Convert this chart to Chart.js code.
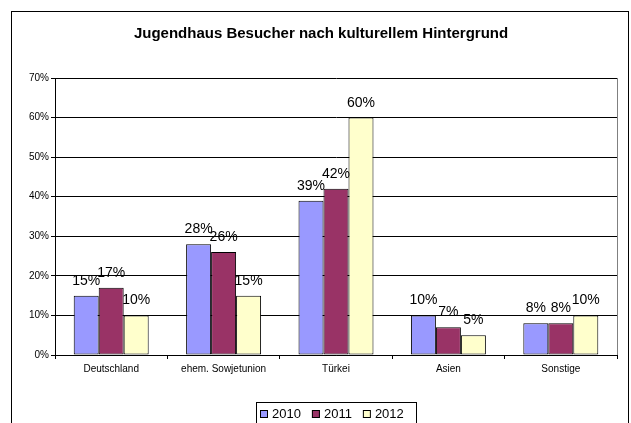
<!DOCTYPE html>
<html>
<head>
<meta charset="utf-8">
<script src="https://cdn.jsdelivr.net/npm/chart.js@4.4.1/dist/chart.umd.min.js"></script>
<style>
    html, body { margin: 0; padding: 0; background: #fff; }
    #wrap { width: 631px; height: 423px; }
</style>
</head>
<body>
<div id="wrap"><canvas id="chart" width="631" height="423"></canvas></div>
<script>
const categories = ['Deutschland', 'ehem. Sowjetunion', 'Türkei', 'Asien', 'Sonstige'];
const seriesLabels = ['2010', '2011', '2012'];
const values2010 = [15, 28, 39, 10, 8];
const values2011 = [17, 26, 42, 7, 8];
const values2012 = [10, 15, 60, 5, 10];
const seriesColors = ['#9999FF', '#993366', '#FFFFCC'];
const chartTitle = 'Jugendhaus Besucher nach kulturellem Hintergrund';

const FONT = '"Liberation Sans", Arial, sans-serif';

// outer frame + title, drawn behind everything
const framePlugin = {
    id: 'frame',
    beforeDraw(chart) {
        const ctx = chart.ctx;
        ctx.save();
        ctx.fillStyle = '#fff';
        ctx.fillRect(0, 0, chart.width, chart.height);
        ctx.strokeStyle = '#000';
        ctx.lineWidth = 1;
        ctx.strokeRect(11.5, 11.5, 617, 430);
        ctx.fillStyle = '#000';
        ctx.font = 'bold 15px ' + FONT;
        ctx.textAlign = 'center';
        ctx.textBaseline = 'alphabetic';
        ctx.fillText(chartTitle, 321, 38);
        ctx.restore();
    },
    afterDraw(chart) {
        const ctx = chart.ctx;
        const a = chart.chartArea;
        ctx.save();
        // right edge of plot area
        ctx.strokeStyle = '#808080';
        ctx.lineWidth = 1;
        ctx.beginPath();
        ctx.moveTo(Math.round(a.right) + 0.5, a.top);
        ctx.lineTo(Math.round(a.right) + 0.5, a.bottom);
        ctx.stroke();

        // legend box
        ctx.strokeStyle = '#000';
        ctx.strokeRect(256.5, 402.5, 160, 40);
        ctx.font = '13px ' + FONT;
        ctx.textBaseline = 'alphabetic';
        ctx.textAlign = 'left';
        let x = 260;
        chart.data.datasets.forEach(ds => {
            ctx.fillStyle = ds.backgroundColor;
            ctx.fillRect(x, 410, 8, 8);
            ctx.strokeStyle = '#000';
            ctx.strokeRect(x + 0.5, 410.5, 7, 7);
            ctx.fillStyle = '#000';
            ctx.fillText(ds.label, x + 12, 418);
            x += 12 + ctx.measureText(ds.label).width + 11;
        });
        ctx.restore();
    },
    afterDatasetsDraw(chart) {
        const ctx = chart.ctx;
        ctx.save();
        ctx.font = '14px ' + FONT;
        ctx.fillStyle = '#000';
        ctx.textAlign = 'center';
        ctx.textBaseline = 'alphabetic';
        chart.data.datasets.forEach((ds, i) => {
            chart.getDatasetMeta(i).data.forEach((bar, j) => {
                ctx.fillText(ds.data[j] + '%', bar.x, bar.y - 11);
            });
        });
        ctx.restore();
    }
};

const ctx = document.getElementById('chart').getContext('2d');
new Chart(ctx, {
    type: 'bar',
    data: {
        labels: categories,
        datasets: [values2010, values2011, values2012].map((vals, i) => ({
            label: seriesLabels[i],
            data: vals,
            backgroundColor: seriesColors[i],
            borderColor: '#000',
            borderWidth: 1,
            borderSkipped: false,
            categoryPercentage: 0.667,
            barPercentage: 1
        }))
    },
    options: {
        responsive: false,
        animation: false,
        devicePixelRatio: 1,
        layout: { padding: { left: 0, top: 78, right: 14, bottom: 38 } },
        plugins: {
            legend: { display: false },
            title: { display: false },
            tooltip: { enabled: false }
        },
        scales: {
            x: {
                afterFit: scale => { scale.height = 30; },
                ticks: { color: '#000', font: { family: FONT, size: 10 }, padding: 4, maxRotation: 0 },
                grid: { offset: true, drawOnChartArea: false, tickLength: 4, color: '#000' },
                border: { color: '#000' }
            },
            y: {
                min: 0,
                max: 70,
                afterFit: scale => { scale.width = 55; },
                ticks: {
                    stepSize: 10,
                    color: '#000',
                    padding: 2,
                    font: { family: FONT, size: 10 },
                    callback: v => v + '%'
                },
                grid: { color: '#000', tickLength: 4 },
                border: { color: '#000' }
            }
        }
    },
    plugins: [framePlugin]
});
</script>
</body>
</html>
